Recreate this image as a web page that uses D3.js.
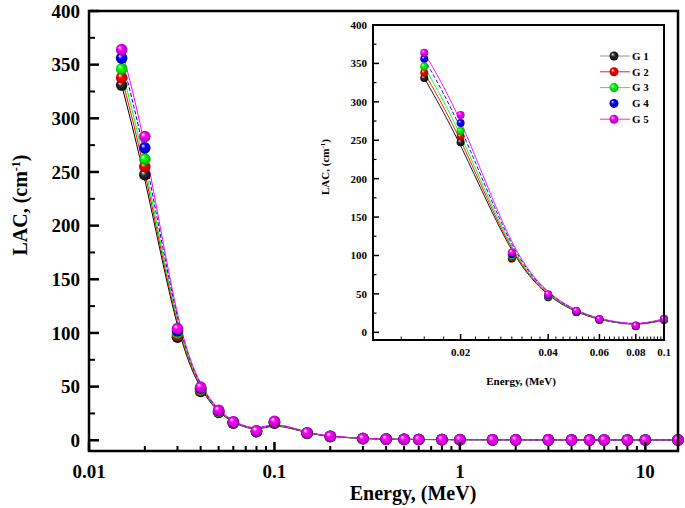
<!DOCTYPE html>
<html><head><meta charset="utf-8">
<script src="https://cdn.jsdelivr.net/npm/d3@7"></script>
<style>html,body{margin:0;padding:0;background:#fff}svg{display:block}text{font-family:"Liberation Serif","Times New Roman",serif;font-weight:bold}</style>
</head><body><svg id="c" width="685" height="508"></svg>
<script>
const energy = [0.015,0.02,0.03,0.04,0.05,0.06,0.08,0.1,0.15,0.2,0.3,0.4,0.5,0.6,0.8,1,1.5,2,3,4,5,6,8,10,15];
const g1 = [331,247.5,96,45.5,26,16.0,8.0,16.0,6.4,3.4,1.50,1.00,0.80,0.70,0.60,0.52,0.43,0.38,0.33,0.31,0.29,0.28,0.27,0.27,0.28];
const g2 = [338,255,98,46.5,26.5,16.3,8.2,16.4,6.5,3.5,1.55,1.02,0.82,0.72,0.61,0.53,0.44,0.39,0.34,0.31,0.30,0.29,0.28,0.28,0.29];
const g3 = [346,262,100,47.5,27,16.6,8.4,16.8,6.7,3.6,1.60,1.05,0.84,0.73,0.62,0.54,0.45,0.40,0.35,0.32,0.30,0.29,0.29,0.29,0.30];
const g4 = [356,272.5,102,48.5,27.5,17.0,8.6,17.2,6.8,3.7,1.65,1.08,0.86,0.75,0.63,0.55,0.46,0.41,0.36,0.33,0.31,0.30,0.30,0.30,0.31];
const g5 = [364,283,104,49.5,28,17.3,8.8,17.6,7.0,3.8,1.70,1.10,0.88,0.76,0.64,0.56,0.47,0.42,0.37,0.34,0.32,0.31,0.31,0.31,0.32];
const seriesNames = ["G 1","G 2","G 3","G 4","G 5"];
const seriesColors = ["#000000","#ff0000","#00ff00","#0000ff","#ff00ff"];
const seriesDash = [null,null,null,"4,2",null];
const mainXTicks = [0.01,0.1,1,10];
const mainXTickLabels = ["0.01","0.1","1","10"];
const yTicks = [0,50,100,150,200,250,300,350,400];
const insetXTicks = [0.02,0.04,0.06,0.08,0.1];
const insetXTickLabels = ["0.02","0.04","0.06","0.08","0.1"];
const seriesValues = [g1,g2,g3,g4,g5];

const svg = d3.select("#c");
const defs = svg.append("defs");
seriesColors.forEach((c,i)=>{
  const g = defs.append("radialGradient").attr("id","sph"+i).attr("cx","50%").attr("cy","50%").attr("r","55%").attr("fx","32%").attr("fy","30%");
  g.append("stop").attr("offset","0%").attr("stop-color","#ffffff");
  g.append("stop").attr("offset","35%").attr("stop-color", i===0 ? "#333" : c);
  g.append("stop").attr("offset","100%").attr("stop-color", d3.color(i===0?"#000":c).darker(1.2));
});

// ---------- main plot ----------
const X = d3.scaleLog().domain([0.01,15]).range([89,678]);
const Y = d3.scaleLinear().domain([-10,400]).range([451,11]);

const line = d3.line().x(d=>X(d[0])).y(d=>Y(d[1])).curve(d3.curveBasis);
seriesValues.forEach((vals,i)=>{
  const pts = energy.map((e,j)=>[e,vals[j]]);
  svg.append("path").attr("d",line(pts)).attr("fill","none").attr("stroke",seriesColors[i]).attr("stroke-width",1).attr("stroke-dasharray",seriesDash[i]);
});
seriesValues.forEach((vals,i)=>{
  svg.append("g").selectAll("circle").data(energy.map((e,j)=>[e,vals[j]])).join("circle")
    .attr("cx",d=>X(d[0])).attr("cy",d=>Y(d[1])).attr("r",5.8).attr("fill","url(#sph"+i+")");
});

// frame
svg.append("rect").attr("x",89).attr("y",11).attr("width",589).attr("height",440).attr("fill","none").attr("stroke","#000").attr("stroke-width",2.5);
// y ticks
const yMinor = d3.range(25,400,50);
svg.append("g").selectAll("line").data(yTicks).join("line").attr("x1",89).attr("x2",99).attr("y1",d=>Y(d)).attr("y2",d=>Y(d)).attr("stroke","#000").attr("stroke-width",2.5);
svg.append("g").selectAll("line").data(yMinor).join("line").attr("x1",89).attr("x2",95).attr("y1",d=>Y(d)).attr("y2",d=>Y(d)).attr("stroke","#000").attr("stroke-width",2);
svg.append("g").selectAll("text").data(yTicks).join("text").attr("x",80).attr("y",d=>Y(d)).attr("dy","0.35em").attr("text-anchor","end").attr("font-size",19).text(d=>d);
// x ticks
const xMinor = [];
[0.01,0.1,1,10].forEach(b=>{for(let k=2;k<=9;k++){const v=b*k; if(v<=15) xMinor.push(v);}});
svg.append("g").selectAll("line").data(mainXTicks).join("line").attr("x1",d=>X(d)).attr("x2",d=>X(d)).attr("y1",451).attr("y2",442).attr("stroke","#000").attr("stroke-width",2.5);
svg.append("g").selectAll("line").data(xMinor).join("line").attr("x1",d=>X(d)).attr("x2",d=>X(d)).attr("y1",451).attr("y2",446).attr("stroke","#000").attr("stroke-width",2);
svg.append("g").selectAll("text").data(mainXTicks).join("text").attr("x",d=>X(d)).attr("y",478).attr("text-anchor","middle").attr("font-size",19).text((d,i)=>mainXTickLabels[i]);
// titles
svg.append("text").attr("x",413).attr("y",500).attr("text-anchor","middle").attr("font-size",20).text("Energy, (MeV)");
const yt = svg.append("text").attr("transform","translate(27,205) rotate(-90)").attr("text-anchor","middle").attr("font-size",20);
yt.append("tspan").text("LAC, (cm");
yt.append("tspan").attr("baseline-shift","super").attr("font-size",12).text("-1");
yt.append("tspan").text(")");

// ---------- inset ----------
const IX = d3.scaleLog().domain([0.01,0.1]).range([373,664]);
const IY = d3.scaleLinear().domain([-10,400]).range([340,25]);
svg.append("rect").attr("x",373).attr("y",25).attr("width",291).attr("height",315).attr("fill","#fff");
const iline = d3.line().x(d=>IX(d[0])).y(d=>IY(d[1])).curve(d3.curveBasis);
seriesValues.forEach((vals,i)=>{
  const pts = energy.map((e,j)=>[e,vals[j]]).filter(d=>d[0]<=0.1);
  svg.append("path").attr("d",iline(pts)).attr("fill","none").attr("stroke",seriesColors[i]).attr("stroke-width",0.9).attr("stroke-dasharray",seriesDash[i]);
});
seriesValues.forEach((vals,i)=>{
  svg.append("g").selectAll("circle").data(energy.map((e,j)=>[e,vals[j]]).filter(d=>d[0]<=0.1)).join("circle")
    .attr("cx",d=>IX(d[0])).attr("cy",d=>IY(d[1])).attr("r",4).attr("fill","url(#sph"+i+")");
});
svg.append("rect").attr("x",373).attr("y",25).attr("width",291).attr("height",315).attr("fill","none").attr("stroke","#000").attr("stroke-width",2);
svg.append("g").selectAll("line").data(yTicks).join("line").attr("x1",373).attr("x2",379).attr("y1",d=>IY(d)).attr("y2",d=>IY(d)).attr("stroke","#000").attr("stroke-width",1.5);
svg.append("g").selectAll("line").data(yMinor).join("line").attr("x1",373).attr("x2",376.5).attr("y1",d=>IY(d)).attr("y2",d=>IY(d)).attr("stroke","#000").attr("stroke-width",1.2);
svg.append("g").selectAll("text").data(yTicks).join("text").attr("x",367).attr("y",d=>IY(d)).attr("dy","0.35em").attr("text-anchor","end").attr("font-size",11).text(d=>d);
const ixMinor = d3.range(0.0125,0.1,0.0025).filter(v=>!insetXTicks.some(t=>Math.abs(t-v)<1e-6));
svg.append("g").selectAll("line").data(insetXTicks).join("line").attr("x1",d=>IX(d)).attr("x2",d=>IX(d)).attr("y1",340).attr("y2",334).attr("stroke","#000").attr("stroke-width",1.5);
svg.append("g").selectAll("line").data(ixMinor).join("line").attr("x1",d=>IX(d)).attr("x2",d=>IX(d)).attr("y1",340).attr("y2",336.5).attr("stroke","#000").attr("stroke-width",1);
svg.append("g").selectAll("text").data(insetXTicks).join("text").attr("x",d=>IX(d)).attr("y",356).attr("text-anchor","middle").attr("font-size",11).text((d,i)=>insetXTickLabels[i]);
svg.append("text").attr("x",521).attr("y",385).attr("text-anchor","middle").attr("font-size",11).text("Energy, (MeV)");
const iyt = svg.append("text").attr("transform","translate(329,167) rotate(-90)").attr("text-anchor","middle").attr("font-size",11);
iyt.append("tspan").text("LAC, (cm");
iyt.append("tspan").attr("baseline-shift","super").attr("font-size",7).text("-1");
iyt.append("tspan").text(")");

// legend
seriesNames.forEach((n,i)=>{
  const y = 56 + i*15.8;
  if(!seriesDash[i]) svg.append("line").attr("x1",600).attr("x2",630).attr("y1",y).attr("y2",y).attr("stroke",i===0?"#888":seriesColors[i]).attr("stroke-width",0.9);
  svg.append("circle").attr("cx",614).attr("cy",y).attr("r",4.5).attr("fill","url(#sph"+i+")");
  svg.append("text").attr("x",632).attr("y",y).attr("dy","0.35em").attr("font-size",11).text(n);
});
</script></body></html>
